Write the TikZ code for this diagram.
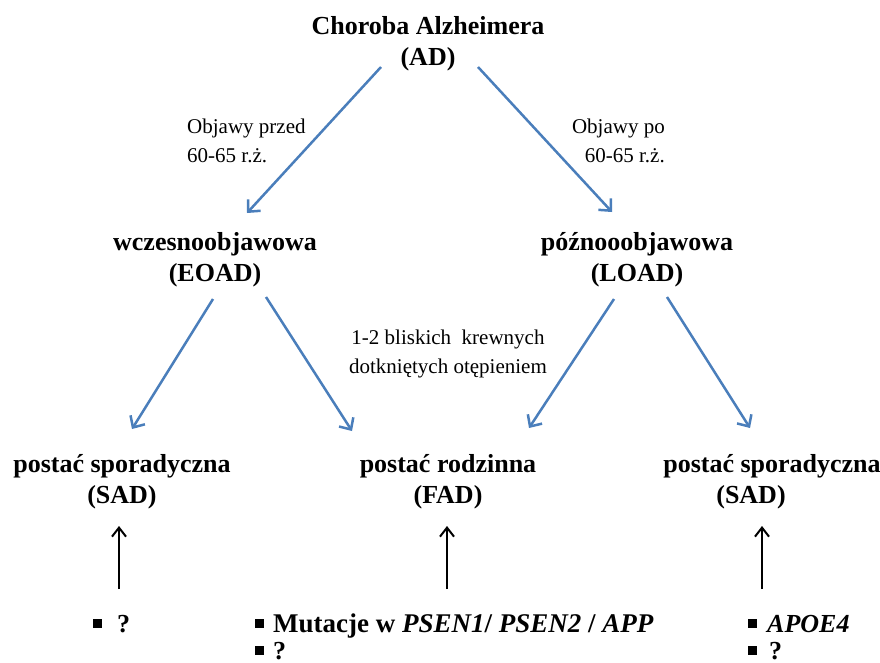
\documentclass[tikz,border=0pt]{standalone}
\usepackage{fontspec}
\setmainfont{Liberation Serif}
\usetikzlibrary{arrows.meta}
\definecolor{arrblue}{RGB}{74,126,187}
\newcommand{\sqb}[1]{\rule[4.5pt]{9pt}{9pt}\hspace*{#1}}
\begin{document}
\begin{tikzpicture}[x=1pt,y=-1pt,
  title/.style={font=\fontsize{26}{31}\selectfont\bfseries, align=center, inner sep=0pt},
  lab/.style={font=\fontsize{21}{29.5}\selectfont, inner sep=0pt},
  bul/.style={font=\fontsize{26}{27}\selectfont\bfseries, inner sep=0pt, anchor=base west},
  bluearr/.style={draw=arrblue, line width=2.5pt, -{Straight Barb[length=9pt,width=17pt]}},
  blackarr/.style={draw=black, line width=2pt, -{Straight Barb[length=9pt,width=14pt]}}
]
\useasboundingbox (0,0) rectangle (880,662);

% main nodes
\node[title] (ad)   at (428,44)  {Choroba Alzheimera\\(AD)};
\node[title] (eoad) at (215,260) {wczesnoobjawowa\\(EOAD)};
\node[title] (load) at (637,260) {późnooobjawowa\\(LOAD)};
\node[title] (sad1) at (122,482) {postać sporadyczna\\(SAD)};
\node[title] (fad)  at (448,482) {postać rodzinna\\(FAD)};
\node[title] (sad2) at (772,482) {postać sporadyczna\\(SAD)\hspace*{42pt}};

% labels
\node[lab, align=left, anchor=west]  (lb1) at (187,141) {Objawy przed\\60-65 r.ż.};
\node[lab, align=right, anchor=east] (lb2) at (665,141) {Objawy po\\60-65 r.ż.};
\node[lab, align=center] (lb3) at (448,354) {1-2 bliskich\ \ krewnych\\dotkniętych otępieniem};

% bullets
\node[bul] (q1)  at (93,632)  {\sqb{15pt}?};
\node[bul, font=\fontsize{27}{27}\selectfont\bfseries] (m1)  at (255,632) {\sqb{9pt}Mutacje w \textit{PSEN1}/ \textit{PSEN2} / \textit{APP}};
\node[bul] (m2)  at (255,659) {\sqb{9pt}?};
\node[bul] (r1)  at (748,632) {\sqb{10pt}\textit{APOE4}};
\node[bul] (r2)  at (748,659) {\sqb{12pt}?};

% connector end points
\coordinate (adL) at (381,67);
\coordinate (adR) at (478,67);
\coordinate (eoT) at (247,213);
\coordinate (loT) at (612,212);
\coordinate (eoL) at (213,299);
\coordinate (eoR) at (266,297);
\coordinate (loL) at (614,299);
\coordinate (loR) at (667,297);
\coordinate (s1T) at (132,429);
\coordinate (fT1) at (352,431);
\coordinate (fT2) at (529,428);
\coordinate (s2T) at (750,428);
\coordinate (k1a) at (119,589);
\coordinate (k1b) at (119,526);
\coordinate (k2a) at (447,589);
\coordinate (k2b) at (447,526);
\coordinate (k3a) at (762,589);
\coordinate (k3b) at (762,526);

\draw[bluearr] (adL) -- (eoT);
\draw[bluearr] (adR) -- (loT);
\draw[bluearr] (eoL) -- (s1T);
\draw[bluearr] (eoR) -- (fT1);
\draw[bluearr] (loL) -- (fT2);
\draw[bluearr] (loR) -- (s2T);

\draw[blackarr] (k1a) -- (k1b);
\draw[blackarr] (k2a) -- (k2b);
\draw[blackarr] (k3a) -- (k3b);
\end{tikzpicture}
\end{document}
